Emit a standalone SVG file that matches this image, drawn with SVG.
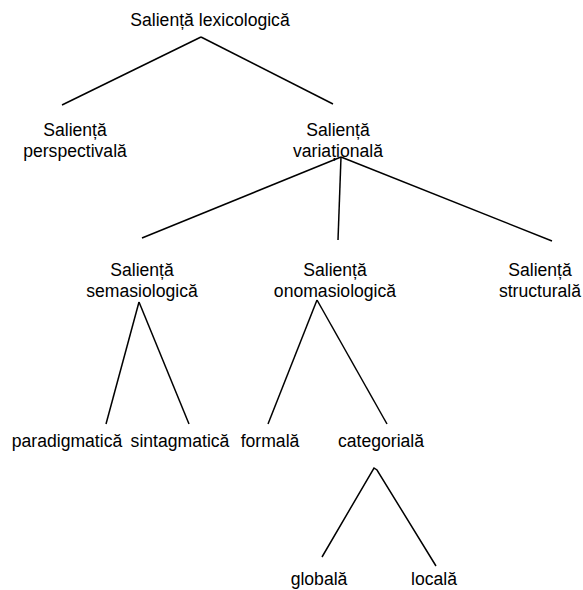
<svg xmlns="http://www.w3.org/2000/svg" width="583" height="590" viewBox="0 0 583 590">
<style>
text{font-family:"Liberation Sans",Arial,sans-serif;font-size:17.6px;fill:#000;text-anchor:middle}
.c line,.c polyline{stroke:#000;stroke-width:1.5;fill:none}
</style>
<rect width="583" height="590" fill="#fff"/>
<g class="c" id="connectors">
<line x1="201" y1="37" x2="62" y2="105"/>
<line x1="201" y1="37" x2="333" y2="104"/>
<line x1="341" y1="157" x2="142" y2="238"/>
<line x1="341" y1="157" x2="338" y2="240"/>
<line x1="341" y1="157" x2="552" y2="241"/>
<line x1="139" y1="302" x2="106" y2="424"/>
<line x1="139" y1="302" x2="189" y2="424"/>
<line x1="317" y1="300" x2="268" y2="424"/>
<line x1="317" y1="300" x2="387" y2="424"/>
<polyline points="322,557 374,468 377,470 436,566"/>
</g>
<g id="n-lex"><text x="210" y="26">Salien&#539;&#259; lexicologic&#259;</text></g>
<g id="n-persp"><text x="75" y="136">Salien&#539;&#259;</text><text x="75" y="157">perspectival&#259;</text></g>
<g id="n-var"><text x="338" y="136">Salien&#539;&#259;</text><text x="338" y="157">varia&#539;ional&#259;</text></g>
<g id="n-sem"><text x="142" y="276">Salien&#539;&#259;</text><text x="142" y="297">semasiologic&#259;</text></g>
<g id="n-ono"><text x="335" y="276">Salien&#539;&#259;</text><text x="335" y="297">onomasiologic&#259;</text></g>
<g id="n-str"><text x="540" y="276">Salien&#539;&#259;</text><text x="540" y="297">structural&#259;</text></g>
<g id="n-para"><text x="67" y="447">paradigmatic&#259;</text></g>
<g id="n-sint"><text x="180" y="447">sintagmatic&#259;</text></g>
<g id="n-form"><text x="270" y="447">formal&#259;</text></g>
<g id="n-cat"><text x="381" y="447">categorial&#259;</text></g>
<g id="n-glob"><text x="319" y="585">global&#259;</text></g>
<g id="n-loc"><text x="434" y="585">local&#259;</text></g>
</svg>
